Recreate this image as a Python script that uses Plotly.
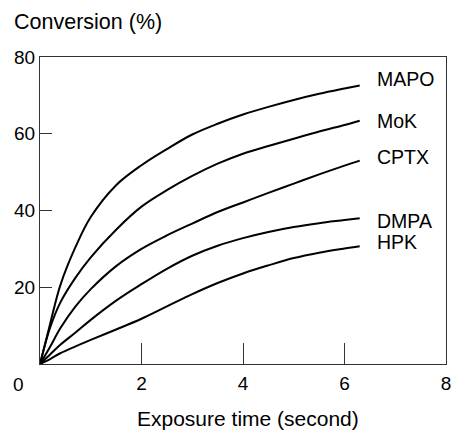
import plotly.graph_objects as go

# Data
time_s = [0, 0.2, 0.4, 0.7, 1.0, 1.5, 2.0, 2.5, 3.0, 3.5, 4.0, 4.5, 5.0, 5.5, 6.0, 6.3]
mapo = [0, 10.5, 20.5, 30.5, 38.3, 46.6, 51.8, 56.0, 59.8, 62.6, 65.0, 67.0, 68.8, 70.4, 71.8, 72.6]
mok = [0, 9.5, 16.0, 22.5, 27.8, 35.0, 41.0, 45.3, 49.0, 52.2, 54.8, 56.8, 58.7, 60.6, 62.3, 63.4]
cptx = [0, 4.5, 9.3, 15.0, 19.5, 25.5, 30.0, 33.5, 36.6, 39.6, 42.1, 44.6, 47.0, 49.4, 51.7, 53.0]
dmpa = [0, 2.5, 5.0, 8.2, 11.5, 16.5, 20.8, 24.8, 28.2, 30.8, 32.8, 34.4, 35.7, 36.7, 37.5, 38.0]
hpk = [0, 1.3, 2.8, 4.6, 6.3, 9.0, 11.8, 15.0, 18.2, 21.1, 23.6, 25.7, 27.6, 29.0, 30.1, 30.7]

series_names = ["MAPO", "MoK", "CPTX", "DMPA", "HPK"]
series_values = [mapo, mok, cptx, dmpa, hpk]
label_y = [74.3, 63.4, 54.0, 37.3, 31.7]

x_tickvals = [2, 4, 6, 8]
x_ticktext = ["2", "4", "6", "8"]
y_tickvals = [20, 40, 60, 80]
y_ticktext = ["20", "40", "60", "80"]

FONT = "Liberation Sans, Arial, Helvetica, sans-serif"

fig = go.Figure()
for name, vals in zip(series_names, series_values):
    fig.add_trace(go.Scatter(
        x=time_s, y=vals, mode="lines", name=name,
        line=dict(color="black", width=2, shape="spline", smoothing=1.0),
        showlegend=False, hoverinfo="skip",
    ))

annotations = []
for name, ly in zip(series_names, label_y):
    annotations.append(dict(
        x=6.6, y=ly, xref="x", yref="y", text=name, showarrow=False,
        xanchor="left", yanchor="middle",
        font=dict(family=FONT, size=19.5, color="black"),
    ))

# corner zero
annotations.append(dict(
    x=0, y=0, xref="x", yref="y", text="0", showarrow=False,
    xanchor="center", yanchor="middle", xshift=-22, yshift=-20,
    font=dict(family=FONT, size=19, color="black"),
))
# y axis title
annotations.append(dict(
    x=0, y=1, xref="paper", yref="paper", text="Conversion (%)", showarrow=False,
    xanchor="left", yanchor="middle", xshift=-28, yshift=35,
    font=dict(family=FONT, size=21.5, color="black"),
))
# x axis title
annotations.append(dict(
    x=0.5, y=0, xref="paper", yref="paper", text="Exposure time (second)", showarrow=False,
    xanchor="center", yanchor="bottom", xshift=5, yshift=-68,
    font=dict(family=FONT, size=21, color="black"),
))

fig.update_layout(
    width=458, height=433,
    margin=dict(l=40, r=7, t=57, b=69),
    paper_bgcolor="white", plot_bgcolor="white",
    annotations=annotations,
    font=dict(family=FONT, color="black"),
)
fig.update_xaxes(
    range=[0, 8], showgrid=False, zeroline=False,
    showline=True, linecolor="#333333", linewidth=1, mirror=True,
    ticks="inside", ticklen=21, tickwidth=1, tickcolor="#333333",
    tickvals=x_tickvals, ticktext=x_ticktext,
    tickfont=dict(family=FONT, size=19, color="black"),
    ticklabelstandoff=2,
)
fig.update_yaxes(
    range=[0, 80], showgrid=False, zeroline=False,
    showline=True, linecolor="#333333", linewidth=1, mirror=True,
    ticks="inside", ticklen=12, tickwidth=1, tickcolor="#333333",
    tickvals=y_tickvals, ticktext=y_ticktext,
    tickfont=dict(family=FONT, size=19, color="black"),
)

fig.write_html("out.html")
